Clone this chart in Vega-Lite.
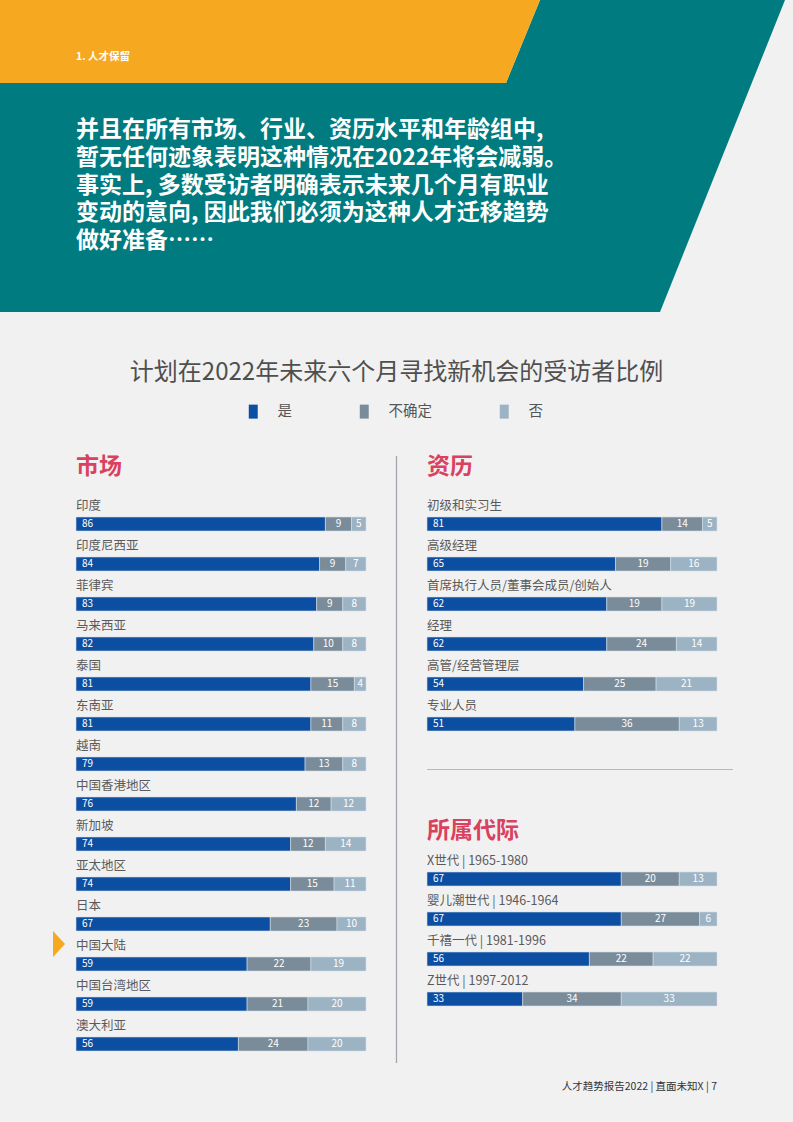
{
  "$schema": "https://vega.github.io/schema/vega-lite/v6.json",
  "background": "#f1f1f1",
  "padding": 0,
  "spacing": 0,
  "config": {"view": {"stroke": null}, "font": "Noto Sans CJK SC"},
  "datasets": {
    "header": [
      {"block": "section", "text": "1. 人才保留"},
      {"block": "quote", "text": "并且在所有市场、行业、资历水平和年龄组中,\n暂无任何迹象表明这种情况在2022年将会减弱。\n事实上, 多数受访者明确表示未来几个月有职业\n变动的意向, 因此我们必须为这种人才迁移趋势\n做好准备……"}
    ],
    "markets": [
      {"name": "印度", "c": "是", "v": 86}, {"name": "印度", "c": "不确定", "v": 9}, {"name": "印度", "c": "否", "v": 5},
      {"name": "印度尼西亚", "c": "是", "v": 84}, {"name": "印度尼西亚", "c": "不确定", "v": 9}, {"name": "印度尼西亚", "c": "否", "v": 7},
      {"name": "菲律宾", "c": "是", "v": 83}, {"name": "菲律宾", "c": "不确定", "v": 9}, {"name": "菲律宾", "c": "否", "v": 8},
      {"name": "马来西亚", "c": "是", "v": 82}, {"name": "马来西亚", "c": "不确定", "v": 10}, {"name": "马来西亚", "c": "否", "v": 8},
      {"name": "泰国", "c": "是", "v": 81}, {"name": "泰国", "c": "不确定", "v": 15}, {"name": "泰国", "c": "否", "v": 4},
      {"name": "东南亚", "c": "是", "v": 81}, {"name": "东南亚", "c": "不确定", "v": 11}, {"name": "东南亚", "c": "否", "v": 8},
      {"name": "越南", "c": "是", "v": 79}, {"name": "越南", "c": "不确定", "v": 13}, {"name": "越南", "c": "否", "v": 8},
      {"name": "中国香港地区", "c": "是", "v": 76}, {"name": "中国香港地区", "c": "不确定", "v": 12}, {"name": "中国香港地区", "c": "否", "v": 12},
      {"name": "新加坡", "c": "是", "v": 74}, {"name": "新加坡", "c": "不确定", "v": 12}, {"name": "新加坡", "c": "否", "v": 14},
      {"name": "亚太地区", "c": "是", "v": 74}, {"name": "亚太地区", "c": "不确定", "v": 15}, {"name": "亚太地区", "c": "否", "v": 11},
      {"name": "日本", "c": "是", "v": 67}, {"name": "日本", "c": "不确定", "v": 23}, {"name": "日本", "c": "否", "v": 10},
      {"name": "中国大陆", "c": "是", "v": 59}, {"name": "中国大陆", "c": "不确定", "v": 22}, {"name": "中国大陆", "c": "否", "v": 19},
      {"name": "中国台湾地区", "c": "是", "v": 59}, {"name": "中国台湾地区", "c": "不确定", "v": 21}, {"name": "中国台湾地区", "c": "否", "v": 20},
      {"name": "澳大利亚", "c": "是", "v": 56}, {"name": "澳大利亚", "c": "不确定", "v": 24}, {"name": "澳大利亚", "c": "否", "v": 20}
    ],
    "seniority": [
      {"name": "初级和实习生", "c": "是", "v": 81}, {"name": "初级和实习生", "c": "不确定", "v": 14}, {"name": "初级和实习生", "c": "否", "v": 5},
      {"name": "高级经理", "c": "是", "v": 65}, {"name": "高级经理", "c": "不确定", "v": 19}, {"name": "高级经理", "c": "否", "v": 16},
      {"name": "首席执行人员/董事会成员/创始人", "c": "是", "v": 62}, {"name": "首席执行人员/董事会成员/创始人", "c": "不确定", "v": 19}, {"name": "首席执行人员/董事会成员/创始人", "c": "否", "v": 19},
      {"name": "经理", "c": "是", "v": 62}, {"name": "经理", "c": "不确定", "v": 24}, {"name": "经理", "c": "否", "v": 14},
      {"name": "高管/经营管理层", "c": "是", "v": 54}, {"name": "高管/经营管理层", "c": "不确定", "v": 25}, {"name": "高管/经营管理层", "c": "否", "v": 21},
      {"name": "专业人员", "c": "是", "v": 51}, {"name": "专业人员", "c": "不确定", "v": 36}, {"name": "专业人员", "c": "否", "v": 13}
    ],
    "generation": [
      {"name": "X世代 | 1965-1980", "c": "是", "v": 67}, {"name": "X世代 | 1965-1980", "c": "不确定", "v": 20}, {"name": "X世代 | 1965-1980", "c": "否", "v": 13},
      {"name": "婴儿潮世代 | 1946-1964", "c": "是", "v": 67}, {"name": "婴儿潮世代 | 1946-1964", "c": "不确定", "v": 27}, {"name": "婴儿潮世代 | 1946-1964", "c": "否", "v": 6},
      {"name": "千禧一代 | 1981-1996", "c": "是", "v": 56}, {"name": "千禧一代 | 1981-1996", "c": "不确定", "v": 22}, {"name": "千禧一代 | 1981-1996", "c": "否", "v": 22},
      {"name": "Z世代 | 1997-2012", "c": "是", "v": 33}, {"name": "Z世代 | 1997-2012", "c": "不确定", "v": 34}, {"name": "Z世代 | 1997-2012", "c": "否", "v": 33}
    ]
  },
  "vconcat": [
    {
      "width": 793,
      "height": 312,
      "data": {"name": "header"},
      "layer": [
        {
          "transform": [{"filter": "datum.block === 'quote'"}],
          "mark": {"type": "point", "shape": "M143.5,-156L388.5,-156L263.5,156L-396.5,156L-396.5,-73L109.5,-73Z", "size": 4, "filled": true, "fill": "#007b80", "opacity": 1, "strokeWidth": 0}
        },
        {
          "transform": [{"filter": "datum.block === 'section'"}],
          "mark": {"type": "point", "shape": "M-396.5,-156L143.5,-156L109.5,-73L-396.5,-73Z", "size": 4, "filled": true, "fill": "#f6a821", "opacity": 1, "strokeWidth": 0}
        },
        {
          "transform": [{"filter": "datum.block === 'section'"}],
          "mark": {"type": "text", "align": "left", "baseline": "middle", "dx": -320.5, "dy": -99, "fontSize": 10.5, "fontWeight": "bold", "color": "#ffffff"},
          "encoding": {"text": {"field": "text"}}
        },
        {
          "transform": [{"filter": "datum.block === 'quote'"}],
          "mark": {"type": "text", "align": "left", "baseline": "middle", "dx": -320.5, "dy": -26, "fontSize": 23, "fontWeight": "bold", "lineHeight": 27.8, "lineBreak": "\n", "color": "#ffffff"},
          "encoding": {"text": {"field": "text"}}
        }
      ]
    },
    {
      "width": 793,
      "height": 141,
      "data": {"values": [{"title": "计划在2022年未来六个月寻找新机会的受访者比例"}]},
      "mark": {"type": "text", "fontSize": 24, "color": "#4f4f4f", "baseline": "middle", "dy": -9.5},
      "encoding": {"text": {"field": "title"}}
    },
    {
      "spacing": 26,
      "hconcat": [
        {"width": 27, "height": 1, "data": {"values": []}, "mark": "point"},
        {
          "width": 290,
          "height": 560,
          "title": {"text": "市场", "anchor": "start", "frame": "group", "fontSize": 23, "fontWeight": "bold", "color": "#d9415f", "offset": 21},
          "data": {"name": "markets"},
          "transform": [{"calculate": "indexof(['是','不确定','否'], datum.c)", "as": "k"}],
          "encoding": {"y": {"field": "name", "type": "nominal", "sort": null, "axis": null, "scale": {"paddingInner": 0, "paddingOuter": 0}}},
          "layer": [
            {
              "mark": {"type": "bar", "height": 14, "stroke": "#d3deea", "strokeWidth": 0.6},
              "encoding": {
                "x": {"field": "v", "type": "quantitative", "stack": "zero", "scale": {"domain": [0, 100], "nice": false}, "axis": null},
                "color": {"field": "c", "type": "nominal", "scale": {"domain": ["是", "不确定", "否"], "range": ["#0b4ea2", "#7a8c99", "#9cb3c4"]},
                  "legend": {"orient": "none", "legendX": 246, "legendY": 404, "direction": "horizontal", "title": null, "symbolType": "M-0.64,-1H0.64V1H-0.64Z", "symbolSize": 196, "symbolStrokeWidth": 0, "labelFontSize": 14.5, "labelColor": "#555555", "labelOffset": 17, "columnPadding": 65}},
                "order": {"field": "k", "type": "quantitative"}
              }
            },
            {
              "transform": [{"filter": "datum.c === '是'"}],
              "mark": {"type": "text", "align": "left", "baseline": "middle", "dy": -18, "fontSize": 12.5, "color": "#5a5a5a"},
              "encoding": {"x": {"datum": 0}, "text": {"field": "name"}}
            },
            {
              "transform": [{"filter": "datum.c === '是'"}],
              "mark": {"type": "text", "align": "left", "baseline": "middle", "dx": 6, "fontSize": 10, "color": "#ffffff"},
              "encoding": {"x": {"datum": 0}, "text": {"field": "v", "type": "quantitative"}}
            },
            {
              "mark": {"type": "text", "align": "center", "baseline": "middle", "fontSize": 10, "color": "#ffffff"},
              "encoding": {
                "x": {"field": "v", "type": "quantitative", "stack": "zero", "bandPosition": 0.5},
                "detail": {"field": "c"},
                "order": {"field": "k", "type": "quantitative"},
                "text": {"field": "v", "type": "quantitative"},
                "opacity": {"condition": {"test": "datum.c === '是'", "value": 0}, "value": 1}
              }
            },
            {
              "transform": [{"filter": "datum.c === '是' && datum.name === '中国大陆'"}],
              "mark": {"type": "point", "shape": "M-6,-13L6,0L-6,13Z", "size": 4, "filled": true, "fill": "#f6a821", "opacity": 1, "strokeWidth": 0, "xOffset": -17, "yOffset": -20},
              "encoding": {"x": {"datum": 0}}
            }
          ]
        },
        {
          "width": 1,
          "height": 1,
          "data": {"values": [{"divider": "市场 | 资历"}]},
          "mark": {"type": "point", "shape": "M0,-48.5L0,558.5", "size": 4, "filled": false, "stroke": "#a4a5ad", "strokeWidth": 1.3, "opacity": 1}
        },
        {
          "spacing": 25,
          "vconcat": [
            {
              "width": 290,
              "height": 240,
              "title": {"text": "资历", "anchor": "start", "frame": "group", "fontSize": 23, "fontWeight": "bold", "color": "#d9415f", "offset": 21},
              "data": {"name": "seniority"},
              "transform": [{"calculate": "indexof(['是','不确定','否'], datum.c)", "as": "k"}],
              "encoding": {"y": {"field": "name", "type": "nominal", "sort": null, "axis": null, "scale": {"paddingInner": 0, "paddingOuter": 0}}},
              "layer": [
                {
                  "mark": {"type": "bar", "height": 14, "stroke": "#d3deea", "strokeWidth": 0.6},
                  "encoding": {
                    "x": {"field": "v", "type": "quantitative", "stack": "zero", "scale": {"domain": [0, 100], "nice": false}, "axis": null},
                    "color": {"field": "c", "type": "nominal", "scale": {"domain": ["是", "不确定", "否"], "range": ["#0b4ea2", "#7a8c99", "#9cb3c4"]},
                      "legend": {"orient": "none", "legendX": 246, "legendY": 404, "direction": "horizontal", "title": null, "symbolType": "M-0.64,-1H0.64V1H-0.64Z", "symbolSize": 196, "symbolStrokeWidth": 0, "labelFontSize": 14.5, "labelColor": "#555555", "labelOffset": 17, "columnPadding": 65}},
                    "order": {"field": "k", "type": "quantitative"}
                  }
                },
                {
                  "transform": [{"filter": "datum.c === '是'"}],
                  "mark": {"type": "text", "align": "left", "baseline": "middle", "dy": -18, "fontSize": 12.5, "color": "#5a5a5a"},
                  "encoding": {"x": {"datum": 0}, "text": {"field": "name"}}
                },
                {
                  "transform": [{"filter": "datum.c === '是'"}],
                  "mark": {"type": "text", "align": "left", "baseline": "middle", "dx": 6, "fontSize": 10, "color": "#ffffff"},
                  "encoding": {"x": {"datum": 0}, "text": {"field": "v", "type": "quantitative"}}
                },
                {
                  "mark": {"type": "text", "align": "center", "baseline": "middle", "fontSize": 10, "color": "#ffffff"},
                  "encoding": {
                    "x": {"field": "v", "type": "quantitative", "stack": "zero", "bandPosition": 0.5},
                    "detail": {"field": "c"},
                    "order": {"field": "k", "type": "quantitative"},
                    "text": {"field": "v", "type": "quantitative"},
                    "opacity": {"condition": {"test": "datum.c === '是'", "value": 0}, "value": 1}
                  }
                }
              ]
            },
            {
              "spacing": 50,
              "vconcat": [
                {"width": 306, "height": 1, "data": {"values": []}, "mark": "point", "view": {"fill": "#b3b9c5", "stroke": null}},
                {
                  "spacing": 58,
                  "vconcat": [
                    {
                      "width": 290,
                      "height": 160,
                      "title": {"text": "所属代际", "anchor": "start", "frame": "group", "fontSize": 23, "fontWeight": "bold", "color": "#d9415f", "offset": 12},
                      "data": {"name": "generation"},
                      "transform": [{"calculate": "indexof(['是','不确定','否'], datum.c)", "as": "k"}],
                      "encoding": {"y": {"field": "name", "type": "nominal", "sort": null, "axis": null, "scale": {"paddingInner": 0, "paddingOuter": 0}}},
                      "layer": [
                        {
                          "mark": {"type": "bar", "height": 14, "stroke": "#d3deea", "strokeWidth": 0.6},
                          "encoding": {
                            "x": {"field": "v", "type": "quantitative", "stack": "zero", "scale": {"domain": [0, 100], "nice": false}, "axis": null},
                            "color": {"field": "c", "type": "nominal", "scale": {"domain": ["是", "不确定", "否"], "range": ["#0b4ea2", "#7a8c99", "#9cb3c4"]},
                              "legend": {"orient": "none", "legendX": 246, "legendY": 404, "direction": "horizontal", "title": null, "symbolType": "M-0.64,-1H0.64V1H-0.64Z", "symbolSize": 196, "symbolStrokeWidth": 0, "labelFontSize": 14.5, "labelColor": "#555555", "labelOffset": 17, "columnPadding": 65}},
                            "order": {"field": "k", "type": "quantitative"}
                          }
                        },
                        {
                          "transform": [{"filter": "datum.c === '是'"}],
                          "mark": {"type": "text", "align": "left", "baseline": "middle", "dy": -18, "fontSize": 12.5, "color": "#5a5a5a"},
                          "encoding": {"x": {"datum": 0}, "text": {"field": "name"}}
                        },
                        {
                          "transform": [{"filter": "datum.c === '是'"}],
                          "mark": {"type": "text", "align": "left", "baseline": "middle", "dx": 6, "fontSize": 10, "color": "#ffffff"},
                          "encoding": {"x": {"datum": 0}, "text": {"field": "v", "type": "quantitative"}}
                        },
                        {
                          "mark": {"type": "text", "align": "center", "baseline": "middle", "fontSize": 10, "color": "#ffffff"},
                          "encoding": {
                            "x": {"field": "v", "type": "quantitative", "stack": "zero", "bandPosition": 0.5},
                            "detail": {"field": "c"},
                            "order": {"field": "k", "type": "quantitative"},
                            "text": {"field": "v", "type": "quantitative"},
                            "opacity": {"condition": {"test": "datum.c === '是'", "value": 0}, "value": 1}
                          }
                        }
                      ]
                    },
                    {
                      "width": 290,
                      "height": 20,
                      "data": {"values": [{"footer": "人才趋势报告2022 | 直面未知X | 7"}]},
                      "mark": {"type": "text", "align": "right", "dx": 145, "baseline": "middle", "fontSize": 10.5, "color": "#333333"},
                      "encoding": {"text": {"field": "footer"}}
                    }
                  ]
                }
              ]
            }
          ]
        }
      ]
    },
    {"width": 793, "height": 28, "data": {"values": []}, "mark": "point"}
  ]
}
